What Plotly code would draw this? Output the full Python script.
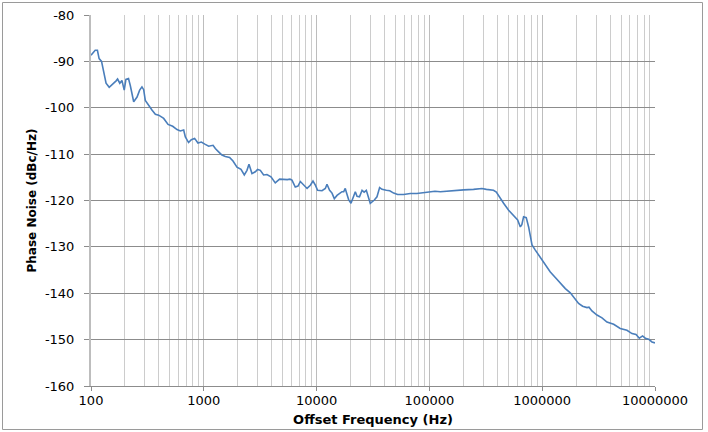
import plotly.graph_objects as go

# Offset frequency (Hz) and phase noise (dBc/Hz)
freq_hz = [
    100, 109, 114, 118, 124, 129, 136, 145, 151, 159, 167, 172, 180, 188, 197,
    204, 215, 223, 239, 256, 270, 283, 293, 303, 324, 347, 372, 398, 441, 482,
    530, 579, 619, 663, 686, 733, 775, 829, 888, 951, 1031, 1104, 1208, 1265,
    1353, 1449, 1552, 1694, 1815, 1968, 2137, 2285, 2414, 2515, 2674, 2862,
    3000, 3170, 3390, 3630, 3940, 4300, 4700, 5040, 5500, 5800, 6050, 6470,
    6840, 7180, 7680, 8230, 8800, 9290, 9750, 10210, 11170, 11950, 12360,
    13040, 13700, 14360, 15170, 16000, 16790, 17400, 17950, 18500, 19230,
    20180, 21030, 22040, 22820, 24000, 25290, 26400, 27600, 28700, 29900,
    32500, 34300, 36200, 38000, 41500, 44500, 48200, 52300, 59100, 67700,
    77500, 88900, 101900, 112000, 125000, 153000, 201000, 246000, 292000,
    320000, 370000, 392000, 425000, 455000, 504000, 558000, 606000, 640000,
    660000, 684000, 722000, 758000, 812000, 869000, 962000, 1064000, 1180000,
    1307000, 1448000, 1603000, 1775000, 1898000, 2101000, 2281000, 2495000,
    2600000, 2760000, 3060000, 3390000, 3750000, 4300000, 4920000, 5640000,
    6250000, 6790000, 7260000, 7500000, 7760000, 8200000, 8780000, 9400000,
    10000000,
]
phase_noise_dbc = [
    -88.7, -87.6, -87.6, -89.4, -90.0, -92.3, -94.7, -95.6, -95.2, -94.8,
    -94.2, -93.8, -94.7, -94.1, -96.2, -93.9, -93.7, -95.2, -98.7, -97.7,
    -96.2, -95.5, -96.1, -98.4, -99.5, -100.5, -101.4, -101.6, -102.3,
    -103.6, -104.0, -104.7, -105.0, -104.8, -106.3, -107.5, -106.9, -106.6,
    -107.6, -107.4, -107.9, -108.3, -108.1, -108.8, -109.5, -110.2, -110.5,
    -110.7, -111.5, -112.8, -113.3, -114.5, -113.5, -112.2, -114.2, -113.8,
    -113.3, -113.5, -114.5, -114.4, -114.9, -116.2, -115.4, -115.5, -115.5,
    -115.4, -115.6, -117.1, -116.9, -115.9, -116.7, -117.4, -116.7, -115.8,
    -116.7, -117.8, -117.9, -117.4, -116.5, -117.8, -118.4, -119.6, -118.9,
    -118.5, -118.1, -118.1, -117.4, -118.5, -119.8, -120.6, -119.2, -118.1,
    -119.1, -119.2, -117.8, -118.2, -117.8, -119.2, -120.6, -119.9, -119.2,
    -117.2, -117.6, -117.8, -117.9, -118.4, -118.7, -118.7, -118.5, -118.5,
    -118.3, -118.0, -118.0, -118.1, -117.9, -117.7, -117.6, -117.4, -117.6,
    -117.8, -118.2, -119.6, -120.6, -122.1, -123.2, -124.2, -125.7, -125.2,
    -123.5, -123.7, -125.7, -129.6, -130.7, -132.2, -133.9, -135.4, -136.6,
    -137.8, -139.0, -139.9, -140.8, -142.2, -142.8, -143.1, -143.0, -143.8,
    -144.7, -145.3, -146.2, -146.7, -147.6, -148.0, -148.7, -148.9, -149.7,
    -149.4, -149.2, -149.7, -149.9, -150.5, -150.7,
]

x_tick_vals = [100, 1000, 10000, 100000, 1000000, 10000000]
x_tick_text = ["100", "1000", "10000", "100000", "1000000", "10000000"]
y_tick_vals = [-80, -90, -100, -110, -120, -130, -140, -150, -160]
y_tick_text = ["-80", "-90", "-100", "-110", "-120", "-130", "-140", "-150", "-160"]

FONT = "DejaVu Sans, Verdana, sans-serif"

fig = go.Figure()
fig.add_trace(go.Scatter(
    x=freq_hz, y=phase_noise_dbc, mode="lines",
    line=dict(color="#4a7ebb", width=1.6),
    showlegend=False,
))

fig.update_layout(
    width=708, height=432,
    margin=dict(l=91, r=53, t=15, b=46, autoexpand=False),
    paper_bgcolor="white", plot_bgcolor="white",
    font=dict(family=FONT, size=12, color="black"),
    xaxis=dict(
        type="log", range=[2, 7], automargin=False,
        tickvals=x_tick_vals, ticktext=x_tick_text,
        showgrid=True, gridcolor="#bdbdbd", gridwidth=1,
        minor=dict(dtick="D1", showgrid=True, gridcolor="#cccccc", gridwidth=1,
                   ticks=""),
        showline=True, linecolor="#8c8c8c", linewidth=1,
        ticks="outside", ticklen=4, tickcolor="#8c8c8c",
        ticklabelstandoff=-2,
        tickfont=dict(size=13, family=FONT),
        title=dict(text="<b>Offset Frequency (Hz)</b>", standoff=8,
                   font=dict(size=13, family=FONT)),
        zeroline=False,
    ),
    yaxis=dict(
        range=[-160, -80], automargin=False,
        tickvals=y_tick_vals, ticktext=y_tick_text,
        showgrid=True, gridcolor="#8c8c8c", gridwidth=1,
        showline=True, linecolor="#bdbdbd", linewidth=2,
        ticks="outside", ticklen=5, tickcolor="#8c8c8c",
        ticklabelstandoff=7,
        tickfont=dict(size=13, family=FONT),
        title=dict(text="<b>Phase Noise (dBc/Hz)</b>", standoff=6,
                   font=dict(size=12, family=FONT)),
        zeroline=False,
    ),
    shapes=[dict(
        type="rect", xref="paper", yref="paper",
        x0=(2.5 - 91) / 564, x1=(702.5 - 91) / 564,
        y0=(386 - 429.5) / 371, y1=(386 - 2.5) / 371,
        line=dict(color="#9a9a9a", width=1), fillcolor="rgba(0,0,0,0)",
        layer="below",
    )],
)

fig.write_html(
    "out.html",
    config={"displayModeBar": False},
    post_script="document.body.style.margin='0';document.body.style.overflow='hidden';",
)
